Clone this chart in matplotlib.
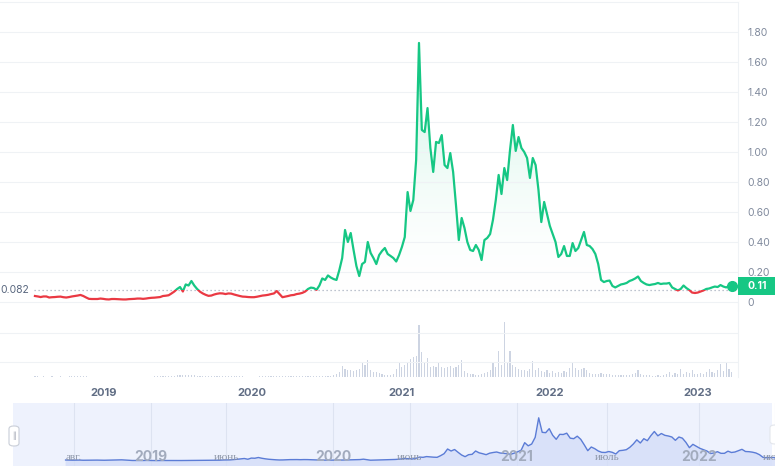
import matplotlib
matplotlib.use("Agg")
import matplotlib.dates as mdates
import matplotlib.pyplot as plt
import numpy as np
import pandas as pd
from matplotlib.colors import LinearSegmentedColormap
from matplotlib.patches import FancyBboxPatch, Polygon, Rectangle
from matplotlib.transforms import blended_transform_factory

plt.rcParams["font.family"] = ["Inter", "DejaVu Sans"]

# weekly closes
START = "2018-07-15"
PRICE = [
    .040, .037, .033, .037, .037, .030, .032, .033, .035, .036,
    .032, .030, .033, .037, .040, .043, .047, .040, .030, .021,
    .020, .020, .020, .023, .021, .018, .017, .020, .020, .019,
    .018, .017, .017, .019, .020, .021, .023, .023, .021, .023,
    .026, .028, .029, .031, .033, .040, .042, .045, .057, .070,
    .087, .100, .070, .117, .110, .140, .110, .087, .069, .057,
    .048, .041, .043, .050, .055, .058, .057, .053, .057, .056,
    .050, .045, .040, .036, .035, .033, .032, .032, .035, .039,
    .043, .045, .048, .053, .057, .073, .053, .032, .036, .040,
    .045, .047, .053, .056, .061, .070, .087, .096, .093, .081,
    .110, .157, .147, .177, .163, .153, .147, .213, .293, .480,
    .400, .460, .347, .240, .173, .253, .267, .400, .327, .293,
    .253, .313, .340, .360, .320, .307, .293, .270, .313, .367,
    .433, .733, .607, .680, .947, 1.727, 1.147, 1.133, 1.293, 1.027,
    .867, 1.067, 1.060, 1.113, .913, .893, .993, .867, .647, .413,
    .560, .493, .400, .347, .340, .380, .347, .280, .413, .427,
    .453, .547, .680, .847, .720, .893, .813, 1.013, 1.180, 1.007,
    1.100, 1.027, 1.000, .960, .827, .960, .913, .747, .533, .667,
    .587, .507, .453, .400, .300, .320, .373, .307, .307, .393,
    .340, .360, .413, .467, .380, .373, .353, .320, .253, .147,
    .133, .140, .143, .107, .097, .107, .117, .121, .127, .140,
    .147, .157, .170, .140, .127, .117, .113, .117, .120, .127,
    .120, .123, .123, .127, .097, .087, .077, .087, .110, .093,
    .080, .063, .060, .063, .070, .077, .087, .090, .097, .103,
    .100, .113, .103, .097, .107, .107,
]
VOLUME = [
    0.8, 0.6, 0.5, 0.6, 0.5, 0.5, 0.6, 0.5, 0.5, 0.6,
    0.5, 0.5, 0.6, 0.6, 0.7, 0.8, 0.9, 0.7, 0.6, 0.5,
    0.5, 0.4, 0.4, 0.5, 0.4, 0.4, 0.4, 0.4, 0.5, 0.4,
    0.4, 0.4, 0.4, 0.4, 0.4, 0.5, 0.5, 0.5, 0.4, 0.5,
    0.5, 0.5, 0.6, 0.6, 0.6, 0.7, 0.8, 0.9, 1.2, 1.5,
    2.0, 2.2, 1.6, 2.0, 1.8, 2.4, 1.8, 1.4, 1.0, 0.9,
    0.8, 0.7, 0.7, 0.8, 0.8, 0.8, 0.8, 0.7, 0.7, 0.7,
    0.7, 0.6, 0.6, 0.6, 0.5, 0.5, 0.5, 0.5, 0.5, 0.6,
    0.6, 0.6, 0.7, 0.7, 0.8, 1.2, 0.9, 0.7, 0.7, 0.7,
    0.8, 0.8, 0.9, 0.9, 1.0, 1.1, 1.4, 1.5, 1.3, 1.2,
    1.2, 1, 1, 1.5, 1.5, 2, 3, 5, 11, 8,
    7, 7, 6, 7, 8, 15, 12, 17, 7, 5,
    5, 4, 3, 2, 2, 2, 3, 8, 14, 10,
    12, 15, 18, 20, 21, 52, 25, 14, 19, 10,
    11, 10, 15, 10, 9, 10, 11, 9, 10, 12,
    17, 6, 4, 3, 3, 2, 2, 3, 4, 5,
    7, 14, 10, 26, 12, 55, 14, 26, 12, 10,
    8, 7, 7, 6, 8, 16, 7, 9, 6, 5,
    7, 4, 6, 4, 5, 4, 6, 5, 9, 14,
    9, 7, 8, 9, 7, 4, 3, 3, 3, 4,
    3, 3, 3, 2, 2, 2, 2, 2, 2, 2,
    3, 4, 7, 3, 2, 2, 2, 1.5, 1.5, 2,
    1.5, 2, 3, 5, 2, 4, 3, 8, 3, 5,
    4, 7, 3, 3, 4, 3, 5, 8, 5, 4,
    7, 13, 6, 15, 8, 5,
]
REF_PRICE = 0.082
REF_LABEL = "0.082"
LAST_LABEL = "0.11"
Y_TICKS = [0, 0.2, 0.4, 0.6, 0.8, 1.0, 1.2, 1.4, 1.6, 1.8]
NAV_TICKS = ["2018-08-01", "2019-01-01", "2019-06-01", "2020-01-01", "2020-06-01",
             "2021-01-01", "2021-07-01", "2022-01-01", "2022-06-01"]
NAV_LABELS = ["авг.", "2019", "июнь", "2020", "июнь", "2021", "июль", "2022", "июнь"]

GREEN = "#16c784"
RED = "#ea3943"
GRID = "#eff2f5"

dates = pd.date_range(START, periods=len(PRICE), freq="7D")
price = np.array(PRICE)

W, H = 775, 466
fig = plt.figure(figsize=(W / 100, H / 100), dpi=100)


def box(x0, y0, x1, y1):
    return [x0 / W, 1 - y1 / H, (x1 - x0) / W, (y1 - y0) / H]


# volume panel (under the price panel)
axv = fig.add_axes(box(0, 303, 738, 377))
ax = fig.add_axes(box(0, 2, 738, 310), sharex=axv)
ax.set_facecolor("none")

x_lo, x_hi = pd.Timestamp("2018-04-20"), pd.Timestamp("2023-04-10")
y_lo, y_hi = -0.0533, 2.0

axv.bar(dates, VOLUME, width=2.8, color="#cdd4e2", linewidth=0)
axv.set_ylim(0, 74)
axv.set_yticks([15, 44.5])
axv.tick_params(axis="y", left=False, labelleft=False)
axv.grid(axis="y", color=GRID, lw=0.8)
for s in ["left", "top", "bottom"]:
    axv.spines[s].set_visible(False)
axv.spines["right"].set_color(GRID)
axv.xaxis.set_major_locator(mdates.YearLocator())
axv.xaxis.set_major_formatter(mdates.DateFormatter("%Y"))
axv.tick_params(axis="x", length=0, pad=8, labelsize=8, labelcolor="#616e85")
for lab in axv.get_xticklabels():
    lab.set_fontweight("bold")

# price panel
xnum = mdates.date2num(dates)
verts = [(xnum[0], 0)] + list(zip(xnum, price)) + [(xnum[-1], 0)]
poly = Polygon(verts, closed=True, facecolor="none", edgecolor="none")
ax.add_patch(poly)
cmap = LinearSegmentedColormap.from_list(
    "fade", [(1, 1, 1, 0), (22 / 255, 199 / 255, 132 / 255, 0.26)])
grad = np.linspace(0, 1, 256).reshape(-1, 1)
im = ax.imshow(grad, extent=[xnum[0], xnum[-1], 0, price.max()], origin="lower",
               aspect="auto", cmap=cmap, zorder=1)
im.set_clip_path(poly)

red_line, = ax.plot(dates, price, color=RED, lw=1.6, zorder=3)
green_line, = ax.plot(dates, price, color=GREEN, lw=1.6, zorder=3)
big = xnum[-1] - xnum[0] + 400
green_line.set_clip_path(Rectangle((xnum[0] - 200, REF_PRICE), big, 10, transform=ax.transData))
red_line.set_clip_path(Rectangle((xnum[0] - 200, -1), big, 1 + REF_PRICE, transform=ax.transData))
ax.plot(dates[-1], price[-1], "o", ms=7, color=GREEN, zorder=4)

ax.axhline(REF_PRICE, xmin=34 / 738, xmax=0.997, color="#a8b0bf", lw=0.9,
           ls=(0, (1, 2.2)), zorder=2)

ax.set_xlim(x_lo, x_hi)
ax.set_ylim(y_lo, y_hi)
ax.set_yticks(Y_TICKS)
ax.set_yticklabels(["0" if v == 0 else f"{v:.2f}" for v in Y_TICKS])
ax.yaxis.tick_right()
ax.tick_params(axis="y", length=0, pad=7, labelsize=7.5, labelcolor="#808a9d")
ax.tick_params(axis="x", bottom=False, labelbottom=False)
ax.grid(axis="y", color=GRID, lw=0.8, zorder=0)
ax.spines["left"].set_visible(False)
ax.spines["bottom"].set_visible(False)
ax.spines["top"].set_color(GRID)
ax.spines["right"].set_color(GRID)

blend = blended_transform_factory(ax.transAxes, ax.transData)
ax.text(0.0, REF_PRICE, REF_LABEL, transform=blend, ha="left", va="center",
        fontsize=7.5, color="#58667e")
ax.add_patch(Rectangle((1.0, price[-1] - 0.062), 40 / 738, 0.124, transform=blend,
                       facecolor=GREEN, edgecolor="none", clip_on=False, zorder=5))
ax.text(1.0 + 10 / 738, price[-1], LAST_LABEL, transform=blend, ha="left", va="center",
        fontsize=7.5, color="white", fontweight="bold", zorder=6, clip_on=False)

# navigator
axn = fig.add_axes(box(0, 403, 775, 466))
axn.set_xlim(pd.Timestamp("2018-03-06"), pd.Timestamp("2022-05-29"))
axn.set_ylim(-0.2, 2.32)
axn.add_patch(Rectangle((13 / W, 0), 1 - 16 / W, 1, transform=axn.transAxes,
                        facecolor="#eef2fd", edgecolor="none", zorder=0))
nav_ticks = pd.to_datetime(NAV_TICKS)
axn.set_xticks(nav_ticks)
axn.grid(axis="x", color="#dde3f1", lw=0.8, zorder=1)
axn.tick_params(axis="both", length=0, labelbottom=False, labelleft=False)
axn.set_yticks([])
for s in axn.spines.values():
    s.set_visible(False)
axn.fill_between(dates, price, -0.2, color="#d4ddf8", alpha=0.8, lw=0, zorder=2)
axn.plot(dates, price, color="#5b7cd6", lw=1.0, zorder=3)
for t, lab in zip(nav_ticks, NAV_LABELS):
    if lab.isdigit():
        axn.text(t, 0.15, lab, ha="center", va="center", fontsize=10,
                 fontweight="bold", color="#a2abbd", zorder=4, clip_on=False)
    else:
        axn.text(t, 0.13, lab, ha="center", va="center", fontsize=8,
                 family="Liberation Serif", color="#8d96a8", zorder=4, clip_on=False)
fig.add_artist(FancyBboxPatch((9 / W, 1 - 446 / H), 10 / W, 20 / H,
                              boxstyle="round,pad=0,rounding_size=0.006",
                              transform=fig.transFigure, facecolor="white",
                              edgecolor="#c9ced8", lw=0.8, zorder=10))
fig.text(14 / W, 1 - 436 / H, "||", ha="center", va="center", fontsize=5,
         color="#8a90a0", zorder=11)
fig.add_artist(FancyBboxPatch((770 / W, 1 - 444 / H), 10 / W, 19 / H,
                              boxstyle="round,pad=0,rounding_size=0.006",
                              transform=fig.transFigure, facecolor="white",
                              edgecolor="#e3e6ec", lw=0.8, zorder=10))

fig.savefig("out.png", dpi=100)
